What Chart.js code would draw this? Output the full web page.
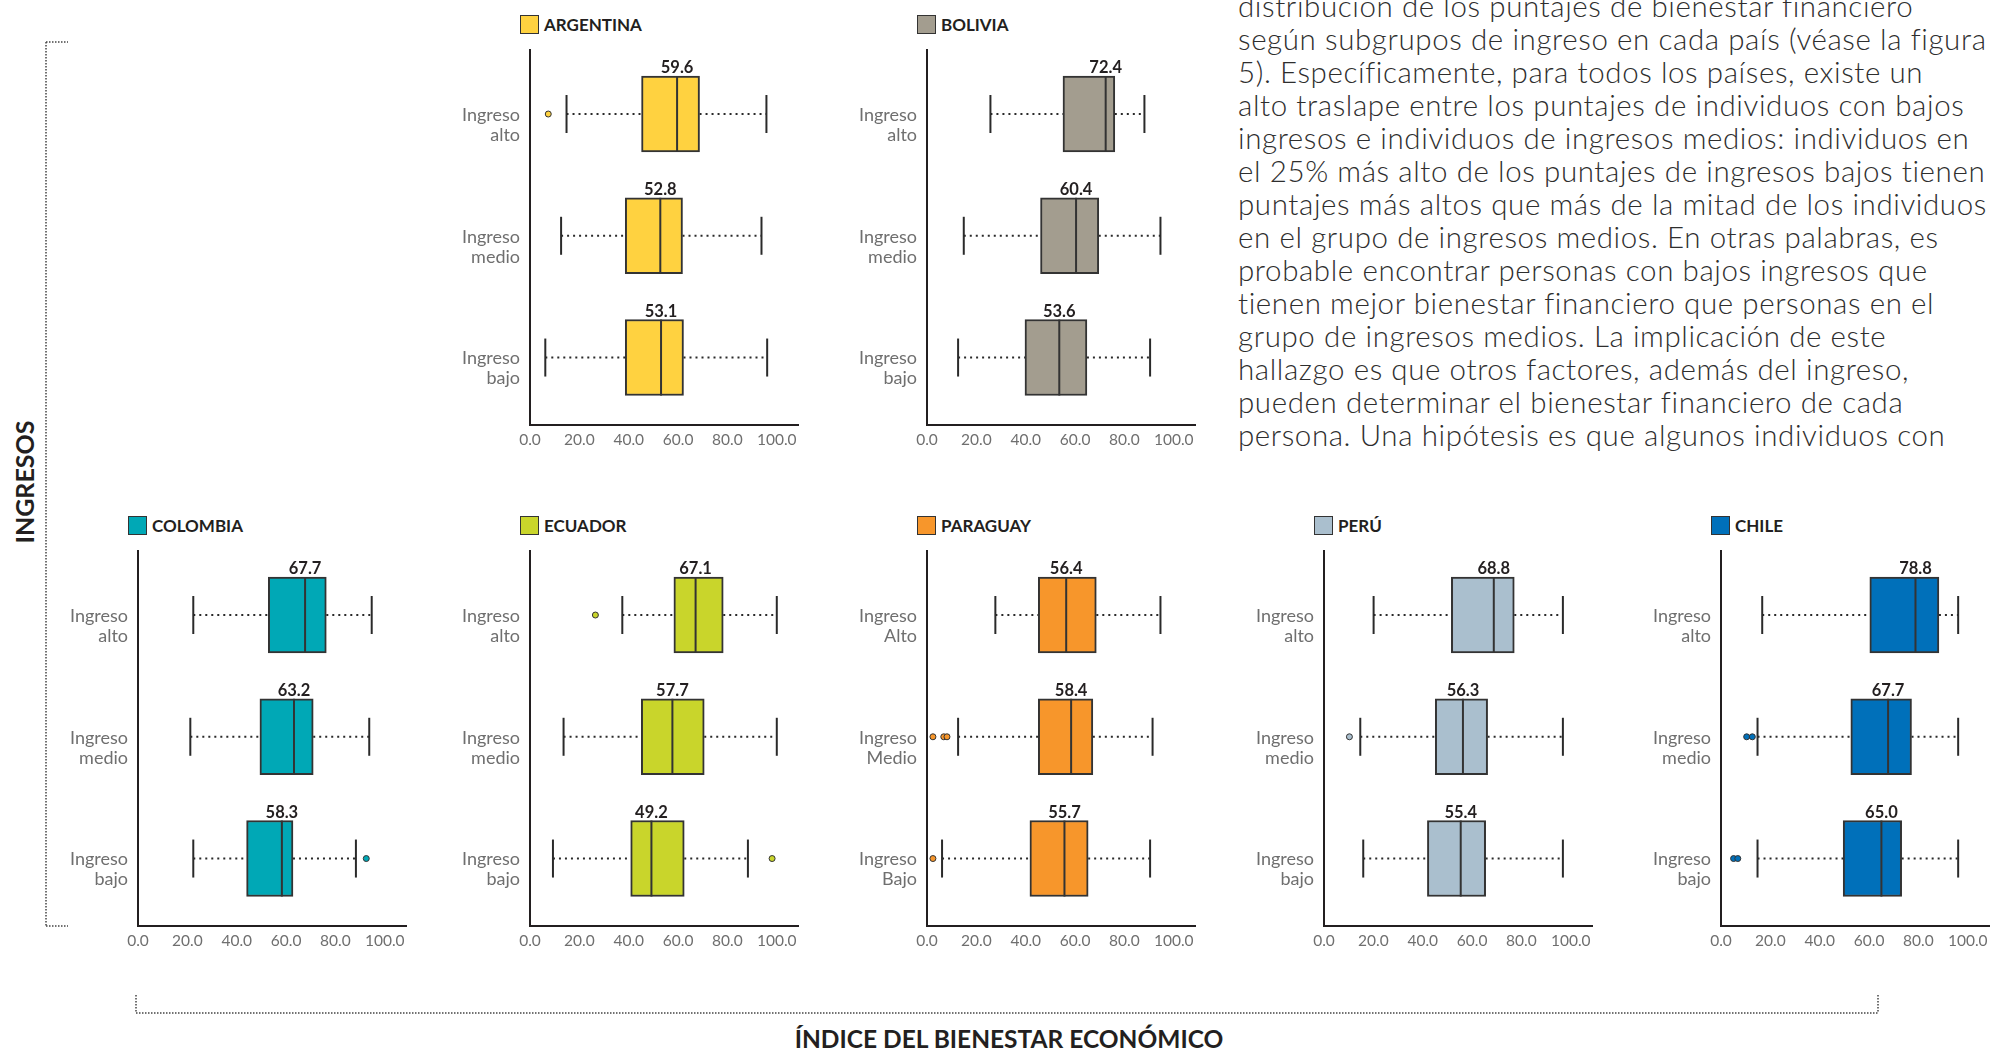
<!DOCTYPE html>
<html lang="es">
<head>
<meta charset="utf-8">
<title>Índice del bienestar económico según ingresos</title>
<script src="https://cdn.jsdelivr.net/npm/chart.js@4.4.1/dist/chart.umd.min.js"></script>
<style>
  html, body { margin: 0; padding: 0; background: #ffffff; }
  body { width: 1990px; height: 1051px; position: relative; overflow: hidden; font-family: Lato, "Noto Sans", sans-serif; }
  .panel { position: absolute; }
  .panel canvas { display: block; }
  .ptitle { position: absolute; display: flex; align-items: center; font: 700 17px Lato; color: #231f20; white-space: nowrap; }
  .swatch { width: 19px; height: 19px; box-sizing: border-box; border: 1.5px solid #333; margin-right: 5px; }
  #texto { position: absolute; left: 1238px; top: -11.5px; font-family: Lato, sans-serif; font-weight: 300; font-size: 29.5px; letter-spacing: 0.6px; line-height: 33px; color: #2e2e2e; white-space: nowrap; }
  #texto div { height: 33px; }
  #ylab { position: absolute; left: 24px; top: 482px; transform: translate(-50%, -50%) rotate(-90deg); font: 700 25px Lato; color: #231f20; white-space: nowrap; }
  #xlab { position: absolute; left: 1009px; top: 1038px; transform: translate(-50%, -50%); font: 700 24.5px Lato; color: #231f20; white-space: nowrap; }
  #brackets { position: absolute; left: 0; top: 0; }
</style>
</head>
<body>

<div id="texto">
  <div>distribución de los puntajes de bienestar financiero</div>
  <div>según subgrupos de ingreso en cada país (véase la figura</div>
  <div>5). Específicamente, para todos los países, existe un</div>
  <div>alto traslape entre los puntajes de individuos con bajos</div>
  <div>ingresos e individuos de ingresos medios: individuos en</div>
  <div>el 25% más alto de los puntajes de ingresos bajos tienen</div>
  <div>puntajes más altos que más de la mitad de los individuos</div>
  <div>en el grupo de ingresos medios. En otras palabras, es</div>
  <div>probable encontrar personas con bajos ingresos que</div>
  <div>tienen mejor bienestar financiero que personas en el</div>
  <div>grupo de ingresos medios. La implicación de este</div>
  <div>hallazgo es que otros factores, además del ingreso,</div>
  <div>pueden determinar el bienestar financiero de cada</div>
  <div>persona. Una hipótesis es que algunos individuos con</div>
</div>

<svg id="brackets" width="1990" height="1051">
  <g stroke="#444" stroke-width="1.5" stroke-dasharray="1.5 1.5" fill="none">
    <line x1="46" y1="42" x2="46" y2="926"/>
    <line x1="46" y1="42" x2="68" y2="42"/>
    <line x1="46" y1="926" x2="68" y2="926"/>
    <line x1="136" y1="1013" x2="1878" y2="1013"/>
    <line x1="136" y1="995" x2="136" y2="1013"/>
    <line x1="1878" y1="995" x2="1878" y2="1013"/>
  </g>
</svg>

<div id="ylab">INGRESOS</div>
<div id="xlab">ÍNDICE DEL BIENESTAR ECONÓMICO</div>

<script>
// Countries, in drawing order
const countries = ['ARGENTINA', 'BOLIVIA', 'COLOMBIA', 'ECUADOR', 'PARAGUAY', 'PERÚ', 'CHILE'];

// Income groups (rows of every panel, top to bottom)
const incomeGroups = ['Ingreso alto', 'Ingreso medio', 'Ingreso bajo'];
const incomeGroupsParaguay = ['Ingreso Alto', 'Ingreso Medio', 'Ingreso Bajo'];

// Index axis ticks
const xTickValues = [0, 20, 40, 60, 80, 100];

// Box-plot statistics per country; each inner array is [alto, medio, bajo]
const lowerWhisker = [
  [14.8, 12.6, 6.2],
  [25.7, 14.9, 12.6],
  [22.4, 21.2, 22.4],
  [37.4, 13.6, 9.3],
  [27.7, 12.6, 6.1],
  [20.1, 14.7, 15.9],
  [16.7, 14.8, 14.8]
];
const firstQuartile = [
  [45.2, 38.6, 38.6],
  [55.1, 46.0, 39.7],
  [52.8, 49.4, 44.0],
  [58.3, 45.1, 40.8],
  [45.1, 45.1, 41.7],
  [51.6, 45.1, 41.9],
  [60.3, 52.6, 49.5]
];
const medianScore = [
  [59.6, 52.8, 53.1],
  [72.4, 60.4, 53.6],
  [67.7, 63.2, 58.3],
  [67.1, 57.7, 49.2],
  [56.4, 58.4, 55.7],
  [68.8, 56.3, 55.4],
  [78.8, 67.7, 65.0]
];
const thirdQuartile = [
  [68.7, 61.8, 62.2],
  [76.1, 69.6, 64.8],
  [76.3, 71.0, 62.8],
  [78.3, 70.6, 62.5],
  [68.6, 67.2, 65.3],
  [77.1, 66.3, 65.5],
  [88.3, 77.2, 73.2]
];
const upperWhisker = [
  [95.8, 93.8, 96.1],
  [88.1, 94.6, 90.4],
  [94.7, 93.7, 88.3],
  [100.0, 100.0, 88.3],
  [94.6, 91.4, 90.4],
  [96.8, 96.8, 96.8],
  [96.1, 96.1, 96.1]
];
const outlierScores = [
  [[7.4], [], []],
  [[], [], []],
  [[], [], [92.5]],
  [[26.5], [], [98.1]],
  [[], [2.4, 6.8, 8.1], [2.4]],
  [[], [10.3], []],
  [[], [10.4, 12.7], [5.1, 6.8]]
];

// Styling and layout
const boxColors = ['#FFD240', '#A39D8F', '#00A8B6', '#C9D52B', '#F7962B', '#AABFCE', '#0070BA'];
const panelAxisX = [530, 927, 138, 530, 927, 1324, 1721];
const panelTop = [49, 49, 550, 550, 550, 550, 550];
const LABEL_W = 120, AXIS_LEN = 269, PLOT_H = 376, XAXIS_H = 30;
const BOX_H = 76, CAP_H = 38;
const INK = '#2a2a2a';

Chart.defaults.font.family = 'Lato, "Noto Sans", sans-serif';

function medianLabelPlugin(c) {
  return {
    id: 'medianLabels' + c,
    afterDatasetsDraw(chart) {
      const { ctx, scales: { x, y } } = chart;
      ctx.save();
      ctx.font = '700 16.5px Lato';
      ctx.fillStyle = '#231f20';
      ctx.textAlign = 'center';
      ctx.textBaseline = 'alphabetic';
      medianScore[c].forEach((v, r) => {
        ctx.fillText(v.toFixed(1), x.getPixelForValue(v), y.getPixelForValue(r) - BOX_H / 2 - 3);
      });
      ctx.restore();
    }
  };
}

function buildPanel(c) {
  const rows = [0, 1, 2];
  const labels = c === 4 ? incomeGroupsParaguay : incomeGroups;
  const color = boxColors[c];

  const title = document.createElement('div');
  title.className = 'ptitle';
  title.style.left = (panelAxisX[c] - 10) + 'px';
  title.style.top = (panelTop[c] - 35) + 'px';
  const sw = document.createElement('span');
  sw.className = 'swatch';
  sw.style.background = color;
  title.appendChild(sw);
  title.appendChild(document.createTextNode(countries[c]));
  document.body.appendChild(title);

  const wrap = document.createElement('div');
  wrap.className = 'panel';
  wrap.style.left = (panelAxisX[c] - LABEL_W) + 'px';
  wrap.style.top = panelTop[c] + 'px';
  const canvas = document.createElement('canvas');
  canvas.width = LABEL_W + AXIS_LEN;
  canvas.height = PLOT_H + XAXIS_H;
  canvas.style.width = canvas.width + 'px';
  canvas.style.height = canvas.height + 'px';
  wrap.appendChild(canvas);
  document.body.appendChild(wrap);

  const whiskerData = rows.flatMap(r => [
    { x: lowerWhisker[c][r], y: r }, { x: firstQuartile[c][r], y: r }, { x: null, y: null },
    { x: thirdQuartile[c][r], y: r }, { x: upperWhisker[c][r], y: r }, { x: null, y: null }
  ]);

  new Chart(canvas, {
    type: 'bar',
    data: {
      datasets: [
        {
          type: 'scatter', label: 'bigotes', data: whiskerData, showLine: true, spanGaps: false,
          borderColor: INK, borderWidth: 2, borderDash: [2, 4], pointRadius: 0, order: 4
        },
        {
          type: 'scatter', label: 'extremos',
          data: rows.flatMap(r => [{ x: lowerWhisker[c][r], y: r }, { x: upperWhisker[c][r], y: r }]),
          pointStyle: 'line', pointRotation: 90, pointRadius: CAP_H / 2,
          pointBorderWidth: 2, pointBorderColor: INK, order: 3
        },
        {
          type: 'bar', label: countries[c],
          data: rows.map(r => ({ x: [firstQuartile[c][r], thirdQuartile[c][r]], y: r })),
          backgroundColor: color, borderColor: '#333', borderWidth: 2, borderSkipped: false,
          barThickness: BOX_H, order: 2
        },
        {
          type: 'scatter', label: 'mediana',
          data: rows.map(r => ({ x: medianScore[c][r], y: r })),
          pointStyle: 'line', pointRotation: 90, pointRadius: BOX_H / 2,
          pointBorderWidth: 2, pointBorderColor: '#333', order: 1
        },
        {
          type: 'scatter', label: 'atípicos',
          data: rows.flatMap(r => outlierScores[c][r].map(v => ({ x: v, y: r }))),
          pointStyle: 'circle', pointRadius: 3, pointBackgroundColor: color,
          pointBorderColor: '#333', pointBorderWidth: 1, order: 0
        }
      ]
    },
    options: {
      indexAxis: 'y',
      responsive: false,
      animation: false,
      events: [],
      devicePixelRatio: 1,
      layout: { padding: 0, autoPadding: false },
      plugins: { legend: { display: false }, tooltip: { enabled: false }, title: { display: false } },
      scales: {
        x: {
          type: 'linear', position: 'bottom', min: 0, max: 109, offset: false,
          grid: { display: false, drawTicks: false },
          border: { display: true, color: '#231f20', width: 2 },
          afterBuildTicks: s => { s.ticks = xTickValues.map(v => ({ value: v })); },
          afterFit: s => { s.height = XAXIS_H; s.paddingLeft = 0; s.paddingRight = 0; },
          ticks: {
            autoSkip: false, maxRotation: 0, padding: 6, color: '#6f6f6f',
            font: { size: 15.5 }, callback: v => Number(v).toFixed(1)
          }
        },
        y: {
          type: 'linear', position: 'left', reverse: true, min: -0.534, max: 2.554, offset: false,
          grid: { display: false, drawTicks: false },
          border: { display: true, color: '#231f20', width: 2 },
          afterBuildTicks: s => { s.ticks = rows.map(v => ({ value: v })); },
          afterFit: s => { s.width = LABEL_W; s.paddingTop = 0; s.paddingBottom = 0; },
          ticks: {
            autoSkip: false, padding: 10, labelOffset: 11, color: '#6f6f6f',
            font: { size: 18, lineHeight: 1.12 },
            callback: v => labels[v].split(' ')
          }
        }
      }
    },
    plugins: [medianLabelPlugin(c)]
  });
}

countries.forEach((_, c) => buildPanel(c));
</script>
</body>
</html>
